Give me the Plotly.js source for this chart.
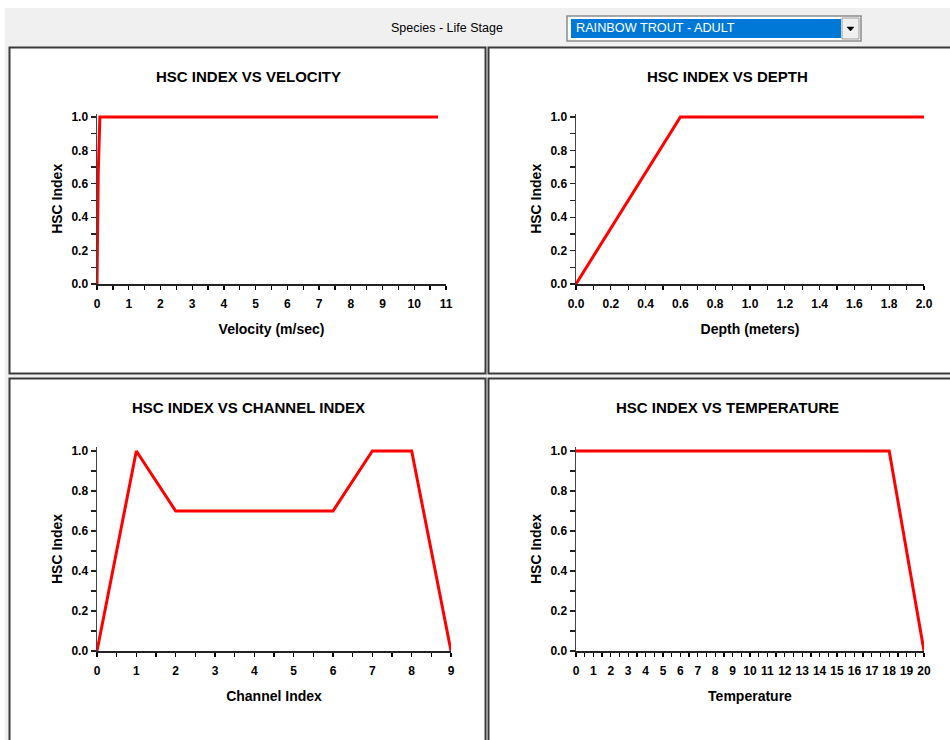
<!DOCTYPE html>
<html>
<head>
<meta charset="utf-8">
<script src="https://cdn.plot.ly/plotly-3.0.1.min.js"></script>
<style>html,body{margin:0;padding:0;background:#fff;}#chart{width:950px;height:740px;}</style>
</head>
<body>
<div id="chart"></div>
<script>
// ---- data ----
const velocityX = [0, 0.02, 0.04, 0.09, 10.75];
const velocityY = [0, 0.33, 0.67, 1.0, 1.0];
const depthX = [0, 0.6, 2.0];
const depthY = [0, 1.0, 1.0];
const channelX = [0, 1, 2, 6, 7, 8, 9];
const channelY = [0, 1.0, 0.7, 0.7, 1.0, 1.0, 0];
const temperatureX = [0, 18, 20];
const temperatureY = [1.0, 1.0, 0];

const panelTitles = ["HSC INDEX VS VELOCITY", "HSC INDEX VS DEPTH", "HSC INDEX VS CHANNEL INDEX", "HSC INDEX VS TEMPERATURE"];
const xTitles = ["Velocity (m/sec)", "Depth (meters)", "Channel Index", "Temperature"];
const yTitle = "HSC Index";
const selectorLabel = "Species - Life Stage";
const selectorValue = "RAINBOW TROUT - ADULT";

// ---- layout helpers ----
const W = 950, H = 740;
const px = v => v / W;
const py = v => 1 - v / H;
const FONT = "'Liberation Sans', Arial, sans-serif";
const RED = '#ff0000';

const traces = [
  {x: velocityX, y: velocityY, xaxis: 'x', yaxis: 'y'},
  {x: depthX, y: depthY, xaxis: 'x2', yaxis: 'y2'},
  {x: channelX, y: channelY, xaxis: 'x3', yaxis: 'y3'},
  {x: temperatureX, y: temperatureY, xaxis: 'x4', yaxis: 'y4'}
].map(t => Object.assign(t, {type: 'scatter', mode: 'lines', line: {color: RED, width: 3}, hoverinfo: 'skip', showlegend: false}));

const tickFont = {family: FONT, size: 12, color: '#000', weight: 700};
const titleFont = {family: FONT, size: 14, color: '#000', weight: 700};

function xAxis(domain, range, dtick, minor, fmt, anchor, title) {
  return {
    domain: domain, range: range, anchor: anchor, dtick: dtick, tick0: 0, tickangle: 0,
    tickformat: fmt, ticks: 'outside', ticklen: 4, tickwidth: 1.3, tickcolor: '#000',
    minor: {dtick: minor, tick0: 0, ticks: 'outside', ticklen: 4, tickwidth: 1.3, tickcolor: '#000'},
    showline: true, linecolor: '#222', linewidth: 1.5, showgrid: false, zeroline: false,
    tickfont: tickFont, fixedrange: true, ticklabelstandoff: 4,
    title: {text: title, font: titleFont, standoff: 14}
  };
}
function xOverlay(base, range, dtick, minor, anchor) {
  return {
    overlaying: base, anchor: anchor, range: range, dtick: dtick, tick0: 0,
    ticks: 'inside', ticklen: 4, tickwidth: 1.3, tickcolor: '#000',
    minor: {dtick: minor, tick0: 0, ticks: 'inside', ticklen: 4, tickwidth: 1.3, tickcolor: '#000'},
    showticklabels: false, showline: false, showgrid: false, zeroline: false, fixedrange: true
  };
}
function yAxis(domain, anchor) {
  return {
    domain: domain, range: [0, 1.02], anchor: anchor, dtick: 0.2, tick0: 0, tickformat: '.1f',
    ticks: 'outside', ticklen: 5, tickwidth: 1.3, tickcolor: '#222',
    minor: {dtick: 0.1, tick0: 0, ticks: 'outside', ticklen: 5, tickwidth: 1.3, tickcolor: '#222'},
    showline: true, linecolor: '#444', linewidth: 1.5, showgrid: false, zeroline: false,
    tickfont: tickFont, fixedrange: true,
    title: {text: yTitle, font: titleFont, standoff: 5}
  };
}

const yTopDom = [py(284), py(284 - 167 * 1.02)];
const yBotDom = [py(651), py(651 - 200 * 1.02)];
const xLeftDom1 = [px(97), px(446)];
const xRightDom = [px(576), px(924)];
const xLeftDom3 = [px(97), px(451)];

const layout = {
  width: W, height: H,
  margin: {l: 0, r: 0, t: 0, b: 0, pad: 0},
  paper_bgcolor: '#f0f0f0', plot_bgcolor: 'rgba(0,0,0,0)',
  showlegend: false,
  font: {family: FONT, color: '#000'},
  xaxis: xAxis(xLeftDom1, [0, 11], 1, 0.5, 'd', 'y', xTitles[0]),
  yaxis: yAxis(yTopDom, 'x'),
  xaxis2: xAxis(xRightDom, [0, 2], 0.2, 0.1, '.1f', 'y2', xTitles[1]),
  yaxis2: yAxis(yTopDom, 'x2'),
  xaxis3: xAxis(xLeftDom3, [0, 9], 1, 0.5, 'd', 'y3', xTitles[2]),
  yaxis3: yAxis(yBotDom, 'x3'),
  xaxis4: xAxis(xRightDom, [0, 20], 1, 0.5, 'd', 'y4', xTitles[3]),
  yaxis4: yAxis(yBotDom, 'x4'),
  xaxis5: xOverlay('x', [0, 11], 1, 0.5, 'y'),
  xaxis6: xOverlay('x2', [0, 2], 0.2, 0.1, 'y2'),
  xaxis7: xOverlay('x3', [0, 9], 1, 0.5, 'y3'),
  xaxis8: xOverlay('x4', [0, 20], 1, 0.5, 'y4'),
  shapes: [
    {type: 'rect', xref: 'paper', yref: 'paper', x0: 0, x1: 1, y0: py(8), y1: 1, fillcolor: '#ffffff', line: {width: 0}, layer: 'below'},
    {type: 'rect', xref: 'paper', yref: 'paper', x0: 0, x1: px(5), y0: 0, y1: 1, fillcolor: '#ffffff', line: {width: 0}, layer: 'below'},
    {type: 'rect', xref: 'paper', yref: 'paper', x0: px(9.5), x1: px(485.5), y0: py(373.5), y1: py(47.5), fillcolor: '#ffffff', line: {color: '#3a3a3a', width: 2}, layer: 'below'},
    {type: 'rect', xref: 'paper', yref: 'paper', x0: px(488.5), x1: px(955), y0: py(373.5), y1: py(47.5), fillcolor: '#ffffff', line: {color: '#3a3a3a', width: 2}, layer: 'below'},
    {type: 'rect', xref: 'paper', yref: 'paper', x0: px(9.5), x1: px(485.5), y0: py(745), y1: py(378.5), fillcolor: '#ffffff', line: {color: '#3a3a3a', width: 2}, layer: 'below'},
    {type: 'rect', xref: 'paper', yref: 'paper', x0: px(488.5), x1: px(955), y0: py(745), y1: py(378.5), fillcolor: '#ffffff', line: {color: '#3a3a3a', width: 2}, layer: 'below'},
    {type: 'rect', xref: 'paper', yref: 'paper', x0: px(567), x1: px(861), y0: py(41), y1: py(16), fillcolor: '#ffffff', line: {color: '#8a8a8a', width: 1.5}, layer: 'below'},
    {type: 'rect', xref: 'paper', yref: 'paper', x0: px(571), x1: px(841), y0: py(38), y1: py(19), fillcolor: '#0078d7', line: {width: 0}, layer: 'below'},
    {type: 'rect', xref: 'paper', yref: 'paper', x0: px(842), x1: px(859), y0: py(39), y1: py(18), fillcolor: '#f0f0f0', line: {color: '#9a9a9a', width: 1}, layer: 'below'},
    {type: 'path', xref: 'paper', yref: 'paper', path: 'M ' + px(847) + ' ' + py(27) + ' L ' + px(854) + ' ' + py(27) + ' L ' + px(850.5) + ' ' + py(31) + ' Z', fillcolor: '#000', line: {color: '#000', width: 0.5}, layer: 'below'}
  ],
  annotations: [
    {text: panelTitles[0], x: px(248), y: py(76)},
    {text: panelTitles[1], x: px(727), y: py(76)},
    {text: panelTitles[2], x: px(248), y: py(407)},
    {text: panelTitles[3], x: px(727), y: py(407)}
  ].map(a => Object.assign(a, {xref: 'paper', yref: 'paper', xanchor: 'center', yanchor: 'middle', showarrow: false, font: {family: FONT, size: 15, color: '#000', weight: 700}})).concat([
    {text: selectorLabel, x: px(447), y: py(28), xref: 'paper', yref: 'paper', xanchor: 'center', yanchor: 'middle', showarrow: false, font: {family: FONT, size: 12.5, color: '#000'}},
    {text: selectorValue, x: px(574), y: py(28.5), xref: 'paper', yref: 'paper', xanchor: 'left', yanchor: 'middle', showarrow: false, font: {family: FONT, size: 12.7, color: '#ffffff'}}
  ])
};

Plotly.newPlot('chart', traces, layout, {staticPlot: true, displayModeBar: false});
</script>
</body>
</html>
